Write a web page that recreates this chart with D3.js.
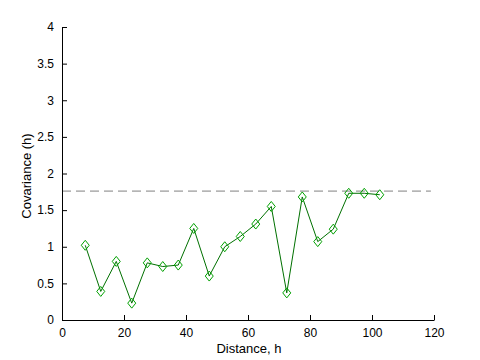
<!DOCTYPE html>
<html>
<head>
<meta charset="utf-8">
<script src="https://cdn.jsdelivr.net/npm/d3@7"></script>
<style>
body { margin: 0; background: #fff; }
text { font-family: "Liberation Sans", Arial, sans-serif; font-size: 12px; fill: #000; }
</style>
</head>
<body>
<script>
// lag distances and covariance values
var lags = [7.5, 12.5, 17.5, 22.5, 27.5, 32.5, 37.5, 42.5, 47.5, 52.5,
            57.5, 62.5, 67.5, 72.5, 77.5, 82.5, 87.5, 92.5, 97.5, 102.5];
var covs = [1.02, 0.39, 0.80, 0.23, 0.78, 0.73, 0.75, 1.25, 0.60, 1.00,
            1.14, 1.31, 1.55, 0.37, 1.68, 1.07, 1.24, 1.73, 1.73, 1.71];
var sill = 1.76;
var xTicks = [0, 20, 40, 60, 80, 100, 120];
var yTicks = [0, 0.5, 1, 1.5, 2, 2.5, 3, 3.5, 4];

var width = 480, height = 360;
var margin = { top: 27, right: 46, bottom: 40, left: 62 };

var svg = d3.select("body").append("svg")
  .attr("width", width)
  .attr("height", height);

var x = d3.scaleLinear().domain([0, 120]).range([margin.left, width - margin.right]);
var y = d3.scaleLinear().domain([0, 4]).range([height - margin.bottom, margin.top]);

var data = lags.map(function(d, i) { return { h: d, c: covs[i] }; });

// sill line
svg.append("line")
  .attr("x1", x(0)).attr("x2", x(119))
  .attr("y1", y(sill)).attr("y2", y(sill))
  .attr("stroke", "#808080")
  .attr("stroke-dasharray", "9,5");

// axes
var xAxis = d3.axisBottom(x).tickValues(xTicks).tickSizeInner(-5).tickSizeOuter(0).tickPadding(8);
var yAxis = d3.axisLeft(y).tickValues(yTicks).tickSizeInner(-5).tickSizeOuter(0).tickPadding(8)
  .tickFormat(d3.format("~g"));

var gx = svg.append("g")
  .attr("transform", "translate(0," + y(0) + ")")
  .call(xAxis);
var gy = svg.append("g")
  .attr("transform", "translate(" + x(0) + ",0)")
  .call(yAxis);
[gx, gy].forEach(function(g) {
  g.selectAll("text").style("font-size", "12px").attr("font-family", null);
  g.selectAll("line, path").attr("stroke", "#000");
});

// line
var line = d3.line()
  .x(function(d) { return x(d.h); })
  .y(function(d) { return y(d.c); });

svg.append("path")
  .datum(data)
  .attr("fill", "none")
  .attr("stroke", "#007000")
  .attr("stroke-width", 1)
  .attr("d", line);

// diamond markers
svg.selectAll(".mk")
  .data(data)
  .enter().append("path")
  .attr("class", "mk")
  .attr("d", function(d) {
    var cx = x(d.h), cy = y(d.c);
    return "M" + cx + "," + (cy - 5) + "L" + (cx + 4) + "," + cy +
           "L" + cx + "," + (cy + 5) + "L" + (cx - 4) + "," + cy + "Z";
  })
  .attr("fill", "none")
  .attr("stroke", "#00a000");

// labels
svg.append("text")
  .attr("x", x(60) + 1).attr("y", 353)
  .attr("text-anchor", "middle")
  .style("font-size", "13px")
  .text("Distance, h");

svg.append("text")
  .attr("transform", "translate(31,176) rotate(-90)")
  .attr("text-anchor", "middle")
  .style("font-size", "13px")
  .text("Covariance (h)");
</script>
</body>
</html>
